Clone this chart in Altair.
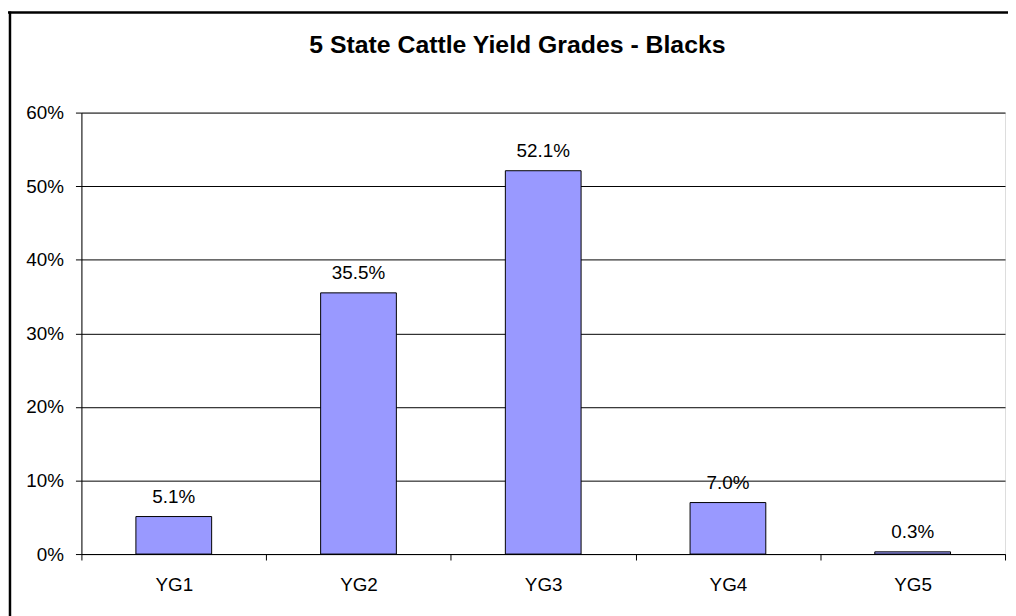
import altair as alt
import pandas as pd

grades = ["YG1", "YG2", "YG3", "YG4", "YG5"]
shares = [0.051, 0.355, 0.521, 0.070, 0.003]

df = pd.DataFrame({"grade": grades, "share": shares})
FONT = "Liberation Sans"

base = alt.Chart(df)

x_enc = alt.X(
    "grade:N",
    sort=grades,
    title=None,
    scale=alt.Scale(paddingInner=0, paddingOuter=0),
    axis=alt.Axis(
        labelAngle=0,
        labelFontSize=19,
        labelFont=FONT,
        labelColor="black",
        tickBand="extent",
        tickSize=6,
        tickColor="black",
        domainColor="black",
        labelBaseline="alphabetic",
        labelPadding=31,
        grid=False,
    ),
)
y_enc = alt.Y(
    "share:Q",
    title=None,
    scale=alt.Scale(domain=[0, 0.6], nice=False),
    axis=alt.Axis(
        format=".0%",
        values=[0, 0.1, 0.2, 0.3, 0.4, 0.5, 0.6],
        labelFontSize=19,
        labelFont=FONT,
        labelColor="black",
        tickSize=6,
        tickColor="black",
        domainColor="black",
        labelPadding=12,
        grid=True,
        gridColor="black",
        gridWidth=1,
    ),
)

bars = base.mark_bar(
    width=alt.RelativeBandSize(0.41),
    color="#9999FF",
    stroke="black",
    strokeWidth=1,
).encode(x=x_enc, y=y_enc)

labels = base.mark_text(
    baseline="alphabetic", dy=-14, fontSize=19, font=FONT, color="black"
).encode(
    x=alt.X("grade:N", sort=grades),
    y="share:Q",
    text=alt.Text("share:Q", format=".1%"),
)

frame_df = pd.DataFrame({"k": [0]})
left_line = alt.Chart(frame_df).mark_rule(color="black", strokeWidth=2.5).encode(
    x=alt.value(-72), y=alt.value(-102), y2=alt.value(520)
)
top_line = alt.Chart(frame_df).mark_rule(color="black", strokeWidth=2.5).encode(
    x=alt.value(-74), x2=alt.value(940), y=alt.value(-101)
)

chart = (
    alt.layer(bars, labels, left_line, top_line)
    .properties(
        width=931,
        height=445,
        autosize=alt.AutoSizeParams(type="none"),
        padding={"left": 74, "top": 103, "right": 3, "bottom": 60},
        title=alt.TitleParams(
            "5 State Cattle Yield Grades - Blacks",
            font=FONT,
            fontSize=25,
            fontWeight="bold",
            color="black",
            anchor="middle",
            frame="group",
            baseline="alphabetic",
            dx=-26,
            dy=68,
            offset=0,
        ),
    )
    .configure_view(stroke="#808080", strokeWidth=1)
    .configure(background="white")
)

chart.save("out.html", embed_options={"renderer": "svg", "actions": False})
